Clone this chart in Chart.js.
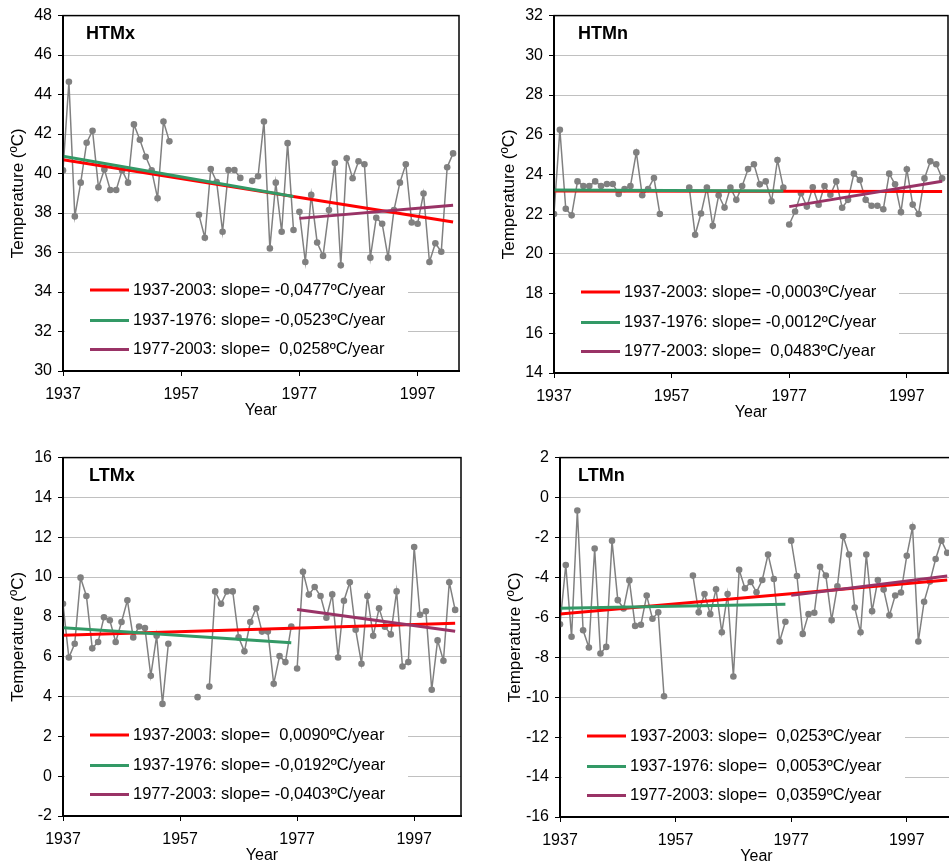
<!DOCTYPE html>
<html>
<head>
<meta charset="utf-8">
<script src="https://cdn.jsdelivr.net/npm/chart.js@4.4.1/dist/chart.umd.min.js"></script>
<style>
  html, body { margin: 0; padding: 0; background: #fff; }
  body { width: 949px; height: 867px; overflow: hidden; position: relative; }
  canvas { position: absolute; }
</style>
</head>
<body>
<canvas id="htmx"></canvas>
<canvas id="htmn"></canvas>
<canvas id="ltmx"></canvas>
<canvas id="ltmn"></canvas>
<script>
// years run from firstYear, one value per year; null = missing year
const firstYear = 1937;
const splitYear = 1977;
const yearTicks = [1937, 1957, 1977, 1997];
const periods = ['1937-2003', '1937-1976', '1977-2003'];

const htmxValues = [
  40.16, 44.65, 37.83, 39.54, 41.56, 42.17, 39.31, 40.21, 39.17, 39.17,
  40.16, 39.54, 42.49, 41.71, 40.85, 40.16, 38.75, 42.64, 41.63, null,
  null, null, null, 37.91, 36.75, 40.23, 39.57, 37.05, 40.18, 40.18,
  39.78, null, 39.63, 39.86, 42.64, 36.21, 39.54, 37.05, 41.54, 37.14,
  38.06, 35.52, 38.92, 36.51, 35.83, 38.15, 40.53, 35.35, 40.77, 39.76,
  40.62, 40.47, 35.74, 37.76, 37.46, 35.74, 38.15, 39.54, 40.47, 37.52,
  37.46, 38.99, 35.52, 36.47, 36.04, 40.32, 41.02
];
const htmnValues = [
  22.01, 26.25, 22.27, 21.94, 23.65, 23.42, 23.42, 23.65, 23.42, 23.52,
  23.52, 23.02, 23.27, 23.42, 25.11, 22.95, 23.27, 23.82, 22.01, null,
  null, null, null, 23.34, 20.96, 22.03, 23.34, 21.41, 22.95, 22.33,
  23.34, 22.72, 23.42, 24.27, 24.51, 23.50, 23.65, 22.65, 24.73, 23.34,
  21.48, 22.13, 23.05, 22.38, 23.35, 22.47, 23.42, 22.98, 23.65, 22.32,
  22.72, 24.04, 23.72, 22.72, 22.42, 22.42, 22.25, 24.04, 23.50, 22.10,
  24.26, 22.48, 22.01, 23.80, 24.66, 24.51, 23.80
];
const ltmxValues = [
  8.66, 5.96, 6.65, 9.97, 9.05, 6.42, 6.74, 7.98, 7.83, 6.74,
  7.74, 8.83, 6.97, 7.52, 7.44, 5.04, 7.05, 3.63, 6.65, null,
  null, null, null, 3.97, null, 4.50, 9.28, 8.66, 9.28, 9.28,
  6.97, 6.27, 7.74, 8.43, 7.26, 7.26, 4.64, 6.03, 5.73, 7.52,
  5.41, 10.27, 9.12, 9.50, 9.05, 7.96, 9.13, 5.96, 8.81, 9.74,
  7.36, 5.65, 9.05, 7.05, 8.43, 7.51, 7.12, 9.28, 5.51, 5.73,
  11.51, 8.11, 8.28, 4.34, 6.82, 5.80, 9.74, 8.35
];
const ltmnValues = [
  -6.35, -3.38, -6.97, -0.65, -6.65, -7.51, -2.55, -7.81, -7.48, -2.17,
  -5.14, -5.56, -4.15, -6.43, -6.37, -4.91, -6.07, -5.75, -9.95, null,
  null, null, null, -3.91, -5.75, -4.83, -5.84, -4.59, -6.75, -4.83,
  -8.96, -3.62, -4.54, -4.23, -4.74, -4.13, -2.85, -4.08, -7.21, -6.22,
  -2.16, -3.93, -6.83, -5.84, -5.77, -3.47, -3.91, -6.14, -4.44, -1.94,
  -2.85, -5.51, -6.75, -2.85, -5.69, -4.13, -4.61, -5.90, -4.91, -4.76,
  -2.92, -1.48, -7.21, -5.22, -4.21, -3.08, -2.16, -2.77
];

// trend lines: [value at start, value at end] for whole / early / late period
const htmxTrends = [[40.70, 37.55], [40.88, 38.84], [37.73, 38.40]];
const htmnTrends = [[23.16, 23.14], [23.22, 23.17], [22.38, 23.66]];
const ltmxTrends = [[7.08, 7.68], [7.45, 6.70], [8.37, 7.28]];
const ltmnTrends = [[-5.83, -4.13], [-5.55, -5.34], [-4.90, -3.93]];

const htmxSlopes = ['-0,0477', '-0,0523', ' 0,0258'];
const htmnSlopes = ['-0,0003', '-0,0012', ' 0,0483'];
const ltmxSlopes = [' 0,0090', '-0,0192', '-0,0403'];
const ltmnSlopes = [' 0,0253', ' 0,0053', ' 0,0359'];

const trendColors = ['#ff0000', '#339966', '#993366'];
const seriesColor = '#808080';
const FONT = '"Liberation Sans", Arial, sans-serif';

Chart.defaults.font.family = FONT;
Chart.defaults.color = '#000';

const panels = [
  { id: 'htmx', title: 'HTMx', titleDx: 23, box: [63, 15, 459, 371], yMin: 30, yMax: 48, xMax: 2004,
    values: htmxValues, trends: htmxTrends, slopes: htmxSlopes },
  { id: 'htmn', title: 'HTMn', titleDx: 24, box: [554, 15, 948, 373], yMin: 14, yMax: 32, xMax: 2004,
    values: htmnValues, trends: htmnTrends, slopes: htmnSlopes },
  { id: 'ltmx', title: 'LTMx', titleDx: 26, box: [63, 457, 461, 816], yMin: -2, yMax: 16, xMax: 2005,
    values: ltmxValues, trends: ltmxTrends, slopes: ltmxSlopes },
  { id: 'ltmn', title: 'LTMn', titleDx: 18, box: [560, 457, 953, 817], yMin: -16, yMax: 2, xMax: 2005,
    values: ltmnValues, trends: ltmnTrends, slopes: ltmnSlopes }
];

// legend box, panel title and frame
const decor = {
  id: 'decor',
  beforeDatasetsDraw(chart, args, o) {
    const { ctx, chartArea: a } = chart;
    ctx.save();
    ctx.fillStyle = '#fff';
    ctx.fillRect(a.left + 2, a.bottom - 100, 343, 96);
    const rows = [81, 50.5, 21.5];
    o.entries.forEach((e, i) => {
      const y = a.bottom - rows[i];
      ctx.strokeStyle = e.color;
      ctx.lineWidth = 3;
      ctx.beginPath();
      ctx.moveTo(a.left + 27, y);
      ctx.lineTo(a.left + 66, y);
      ctx.stroke();
      ctx.fillStyle = '#000';
      ctx.font = '16.5px ' + FONT;
      ctx.textBaseline = 'middle';
      ctx.fillText(e.text, a.left + 70, y);
    });
    ctx.restore();
  },
  afterDraw(chart, args, o) {
    const { ctx, chartArea: a } = chart;
    ctx.save();
    ctx.strokeStyle = '#000';
    ctx.lineWidth = 1.5;
    ctx.strokeRect(a.left, a.top, a.right - a.left, a.bottom - a.top);
    ctx.fillStyle = '#000';
    ctx.font = 'bold 18px ' + FONT;
    ctx.textBaseline = 'middle';
    ctx.fillText(o.title, a.left + o.titleDx, a.top + 18);
    ctx.restore();
  }
};

panels.forEach(p => {
  const [L, T, R, B] = p.box;
  const padL = 63, padT = 15, padR = 15, padB = 59;
  const w = R - L + padL + padR, h = B - T + padT + padB;
  const cv = document.getElementById(p.id);
  cv.width = w; cv.height = h;
  cv.style.width = w + 'px'; cv.style.height = h + 'px';
  cv.style.left = (L - padL) + 'px'; cv.style.top = (T - padT) + 'px';

  const pts = p.values.map((v, i) => ({ x: firstYear + i, y: v }));
  const endYear = firstYear + p.values.length - 1;
  const seg = (x0, x1, ends) => [{ x: x0, y: ends[0] }, { x: x1, y: ends[1] }];
  const trendStyle = c => ({ borderColor: c, borderWidth: 3, pointRadius: 0, fill: false });
  const seriesStyle = {
    borderColor: seriesColor, borderWidth: 1.5, pointRadius: 3.3, pointBackgroundColor: seriesColor,
    pointBorderWidth: 0, spanGaps: false, fill: false
  };

  new Chart(cv, {
    type: 'line',
    data: {
      datasets: [
        { data: seg(firstYear, splitYear - 1, p.trends[1]), ...trendStyle(trendColors[1]) },
        { data: seg(splitYear, endYear, p.trends[2]), ...trendStyle(trendColors[2]) },
        { data: seg(firstYear, endYear, p.trends[0]), ...trendStyle(trendColors[0]) },
        { data: pts.filter(d => d.x < splitYear), ...seriesStyle },
        { data: pts.filter(d => d.x >= splitYear), ...seriesStyle }
      ]
    },
    options: {
      responsive: false,
      animation: false,
      layout: { padding: { left: 0, top: padT, right: padR, bottom: 0 } },
      plugins: {
        legend: { display: false },
        tooltip: { enabled: false },
        decor: {
          title: p.title,
          titleDx: p.titleDx,
          entries: periods.map((per, i) => ({
            color: trendColors[i],
            text: per + ': slope= ' + p.slopes[i] + 'ºC/year'
          }))
        }
      },
      scales: {
        x: {
          type: 'linear',
          min: firstYear,
          max: p.xMax,
          afterBuildTicks: s => { s.ticks = yearTicks.map(v => ({ value: v })); },
          afterFit: s => { s.height = padB; },
          ticks: { font: { size: 16 }, padding: 9, maxRotation: 0, callback: v => String(v) },
          grid: { drawOnChartArea: false, drawTicks: true, tickLength: 5, tickColor: '#000' },
          border: { color: '#000', width: 2 },
          title: { display: true, text: 'Year', font: { size: 16 }, padding: { top: 0, bottom: 10 } }
        },
        y: {
          min: p.yMin,
          max: p.yMax,
          afterFit: s => { s.width = padL; },
          ticks: { stepSize: 2, font: { size: 16 }, padding: 6 },
          grid: { color: '#c0c0c0', lineWidth: 1, tickLength: 5, tickColor: '#000' },
          border: { color: '#000', width: 2 },
          title: { display: true, text: 'Temperature (ºC)', font: { size: 17 }, padding: { top: 8, bottom: 0 } }
        }
      }
    },
    plugins: [decor]
  });
});
</script>
</body>
</html>
